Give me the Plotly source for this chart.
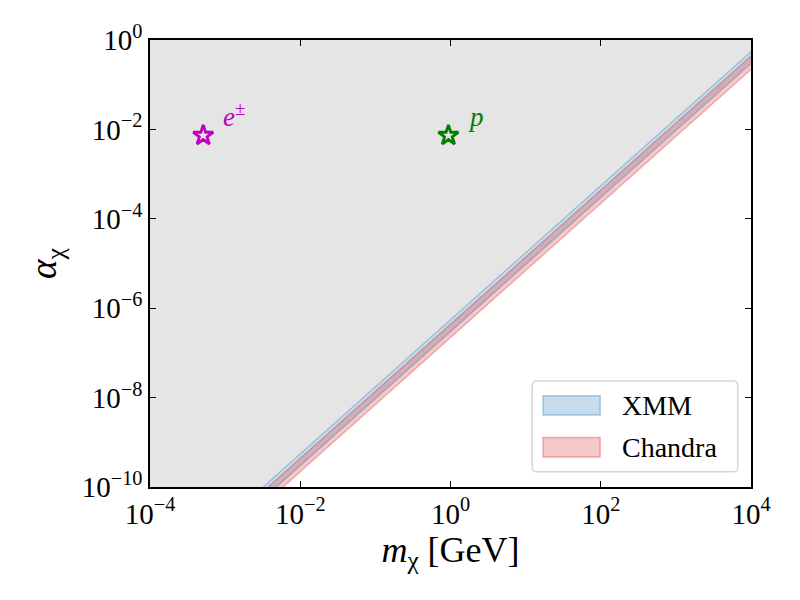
import numpy as np
import plotly.graph_objects as go

# band edges along the mass grid (alpha_chi vs m_chi, log-log straight lines)
mass = [1e-4, 1e4]
xmm_upper = [5.5e-13, 0.55]
xmm_lower = [3.0e-13, 0.30]
chandra_upper = [4.4e-13, 0.44]
chandra_lower = [2.2e-13, 0.22]

# particle benchmarks
particle_mass = [5.11e-4, 0.938]
particle_alpha = [7.3e-3, 7.3e-3]
particle_labels = ["<i>e</i><sup>±</sup>", "<i>p</i>"]
particle_colors = ["#bf00bf", "#008000"]

xtick_vals = [1e-4, 1e-2, 1e0, 1e2, 1e4]
xtick_text = ["10<sup>−4</sup>", "10<sup>−2</sup>", "10<sup>0</sup>", "10<sup>2</sup>", "10<sup>4</sup>"]
ytick_vals = [1e-10, 1e-8, 1e-6, 1e-4, 1e-2, 1e0]
ytick_text = ["10<sup>−10</sup>", "10<sup>−8</sup>", "10<sup>−6</sup>", "10<sup>−4</sup>", "10<sup>−2</sup>", "10<sup>0</sup>"]

FONT = "Liberation Serif"

XMM_FILL, XMM_EDGE = "rgba(31,119,180,0.25)", "rgba(31,119,180,0.35)"
CH_FILL, CH_EDGE = "rgba(214,39,40,0.25)", "rgba(214,39,40,0.35)"

fig = go.Figure()

# excluded (gray) region above the XMM upper edge
fig.add_trace(go.Scatter(
    x=[mass[0], mass[-1]] + mass[::-1],
    y=[1.0, 1.0] + xmm_upper[::-1],
    fill="toself", fillcolor="rgb(229,229,229)", mode="none",
    showlegend=False, hoverinfo="skip"))

def band(lo, hi, name, fill, edge):
    fig.add_trace(go.Scatter(
        x=mass + mass[::-1], y=hi + lo[::-1],
        fill="toself", fillcolor=fill, mode="none", name=name, showlegend=False))
    for edge_y in (hi, lo):
        fig.add_trace(go.Scatter(
            x=mass, y=edge_y, mode="lines", showlegend=False,
            line=dict(color=edge, width=1.3), hoverinfo="skip"))

band(xmm_lower, xmm_upper, "XMM", XMM_FILL, XMM_EDGE)
band(chandra_lower, chandra_upper, "Chandra", CH_FILL, CH_EDGE)

for m, a, lab, col in zip(particle_mass, particle_alpha, particle_labels, particle_colors):
    fig.add_trace(go.Scatter(
        x=[m], y=[a], mode="markers", showlegend=False,
        marker=dict(symbol="star-open", size=15, color=col, line=dict(color=col, width=2.8))))
    fig.add_annotation(x=np.log10(m), y=np.log10(a), text=lab, showarrow=False,
                       xanchor="left", yanchor="bottom", xshift=18, yshift=2,
                       font=dict(family=FONT, size=27, color=col))

# legend box drawn by hand (matplotlib style: rounded frame, filled patches)
def rounded_box(x0, y0, x1, y1, rx=0.008, ry=0.011):
    return (f"M{x0+rx},{y0} L{x1-rx},{y0} Q{x1},{y0} {x1},{y0+ry} "
            f"L{x1},{y1-ry} Q{x1},{y1} {x1-rx},{y1} L{x0+rx},{y1} "
            f"Q{x0},{y1} {x0},{y1-ry} L{x0},{y0+ry} Q{x0},{y0} {x0+rx},{y0} Z")

fig.add_shape(type="path", xref="paper", yref="paper",
              path=rounded_box(0.636, 0.034, 0.978, 0.237),
              fillcolor="rgba(255,255,255,0.85)", line=dict(color="#d6d6d6", width=1.5))
legend_items = [("XMM", XMM_FILL, XMM_EDGE, 0.161, 0.204),
                ("Chandra", CH_FILL, CH_EDGE, 0.067, 0.111)]
for name, fill, edge, y0, y1 in legend_items:
    fig.add_shape(type="rect", xref="paper", yref="paper", x0=0.654, x1=0.749, y0=y0, y1=y1,
                  fillcolor=fill, line=dict(color=edge, width=1.5))
    fig.add_annotation(xref="paper", yref="paper", x=0.782, y=(y0 + y1) / 2, text=name,
                       showarrow=False, xanchor="left", yanchor="middle",
                       font=dict(family=FONT, size=28, color="black"))

axis_common = dict(
    type="log", showgrid=False, zeroline=False,
    showline=True, linecolor="black", linewidth=1.5, mirror="ticks",
    ticks="inside", ticklen=6, tickwidth=1.2, tickcolor="black",
    tickfont=dict(family=FONT, size=29, color="black"))

fig.update_xaxes(range=[-4, 4], tickvals=xtick_vals, ticktext=xtick_text,
                 title=dict(text="<i>m</i><sub>χ</sub> [GeV]", font=dict(family=FONT, size=36),
                            standoff=2),
                 **axis_common)
fig.update_yaxes(range=[-10, 0], tickvals=ytick_vals, ticktext=ytick_text,
                 title=dict(text="<i>α</i><sub>χ</sub>", font=dict(family=FONT, size=37),
                            standoff=14),
                 **axis_common)

# page body adds an 8px offset, so the margins are shifted to land the axes
fig.update_layout(
    width=800, height=600,
    margin=dict(l=142, r=57, t=32, b=121),
    paper_bgcolor="white", plot_bgcolor="white",
    font=dict(family=FONT, color="black"),
    showlegend=False,
)

fig.write_html("out.html")
